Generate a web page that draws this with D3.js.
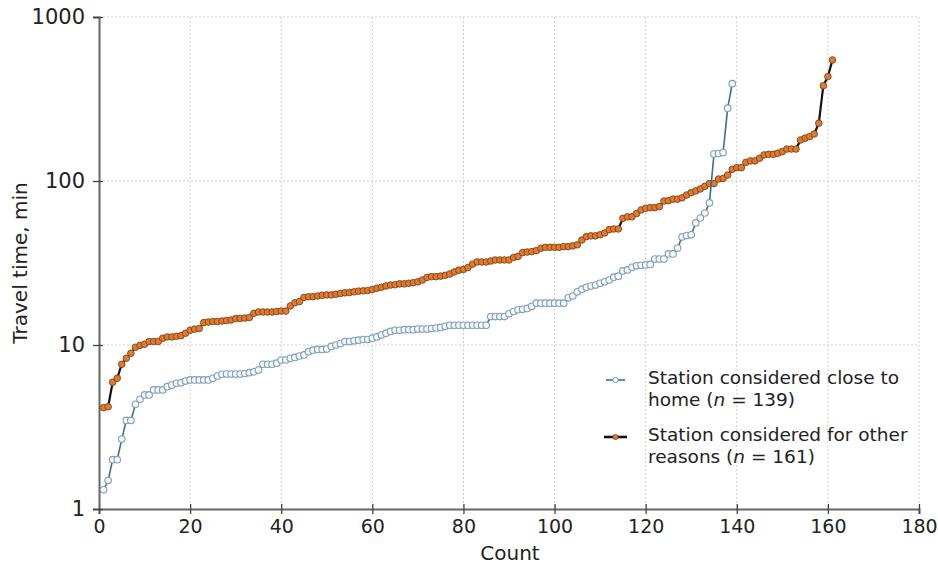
<!DOCTYPE html>
<html>
<head>
<meta charset="utf-8">
<script src="https://cdn.jsdelivr.net/npm/d3@7"></script>
<style>
  html, body { margin: 0; padding: 0; background: #fff; }
  svg { display: block; font-family: "DejaVu Sans", Verdana, sans-serif; }
</style>
</head>
<body>
<svg id="chart" width="938" height="568"></svg>
<script>
// ---- data ----
const closeHome = [
  1.31,1.49,2.0,2.0,2.67,3.47,3.47,4.35,4.67,4.96,
  4.96,5.32,5.32,5.32,5.57,5.70,5.84,5.88,6.03,6.12,
  6.12,6.12,6.12,6.12,6.27,6.47,6.63,6.65,6.65,6.65,
  6.65,6.7,6.78,6.87,7.04,7.63,7.63,7.63,7.75,8.1,
  8.1,8.3,8.4,8.57,8.7,9.1,9.3,9.4,9.4,9.45,
  9.8,10.0,10.2,10.5,10.5,10.6,10.7,10.8,10.8,11.0,
  11.2,11.5,11.8,12.1,12.3,12.3,12.4,12.4,12.4,12.5,
  12.5,12.5,12.6,12.7,12.8,13.0,13.2,13.2,13.2,13.2,
  13.2,13.2,13.2,13.2,13.2,14.9,14.9,14.9,14.9,15.5,
  16.0,16.4,16.5,16.7,17.2,18.0,18.0,18.0,18.0,18.0,
  18.0,18.0,19.4,19.9,21.1,21.9,22.5,22.9,23.2,23.8,
  24.3,24.9,25.9,26.3,28.3,28.7,29.8,30.4,30.6,30.8,
  31.0,33.4,33.4,33.4,35.9,35.9,39,45.6,46.5,47,
  55.5,59.5,63.8,73.5,146,147,149,278,392
];
const otherReasons = [
  4.15,4.2,5.92,6.27,7.63,8.3,8.9,9.68,9.95,10.1,
  10.5,10.5,10.5,11.0,11.2,11.2,11.3,11.4,11.8,12.3,
  12.5,12.6,13.7,13.8,13.9,13.9,14.0,14.1,14.2,14.5,
  14.5,14.6,14.7,15.6,15.9,15.9,15.9,15.9,16.0,16.1,
  16.1,17.3,18.1,18.4,19.5,19.7,19.7,19.9,20.1,20.2,
  20.2,20.4,20.6,20.8,20.9,21.1,21.3,21.4,21.5,21.8,
  22.2,22.5,22.9,23.2,23.3,23.6,23.6,23.8,24.0,24.3,
  24.9,25.8,26.1,26.1,26.3,26.6,27.1,27.9,28.6,28.9,
  29.7,31.1,32.1,32.1,32.1,32.5,33,33,33,33,
  34.2,34.7,36.6,36.9,37.1,37.6,38.9,39.4,39.4,39.4,
  39.4,39.8,39.8,40.2,40.8,43.7,45.8,46.3,46.3,47,
  48.2,50.5,51,51,59.2,60.5,60.5,63.3,66.6,68.2,
  68.8,68.8,69.8,75.5,75.9,77.5,77.5,79,82.2,84.9,
  87,89.4,92.8,96.4,96.4,102.8,103.6,108.7,117.8,120.6,
  120.6,130,132.6,132.6,137.6,144.2,145.5,145.5,147.7,151,
  156.6,156.6,156.6,178,182.6,186.8,193.6,225,381,433,
  547
];
const xTicks = [0,20,40,60,80,100,120,140,160,180];
const yTicks = [1,10,100,1000];
const legendLabels = [
  ["Station considered close to", "home (", "n", " = 139)"],
  ["Station considered for other", "reasons (", "n", " = 161)"]
];
const xTitle = "Count";
const yTitle = "Travel time, min";

// ---- layout ----
const svg = d3.select("#chart");
const m = {left: 99, right: 919, top: 17, bottom: 509};
const x = d3.scaleLinear().domain([0,180]).range([m.left, m.right]);
const y = d3.scaleLog().domain([1,1000]).range([m.bottom, m.top]);

// grid
const grid = svg.append("g");
grid.selectAll("line.vx").data(xTicks.filter(d => d > 0)).join("line")
  .attr("x1", d => x(d)).attr("x2", d => x(d))
  .attr("y1", m.top).attr("y2", m.bottom)
  .attr("stroke", "#cfcfcf").attr("stroke-width", 1).attr("stroke-dasharray", "2,2");
grid.selectAll("line.hy").data(yTicks.filter(d => d > 1)).join("line")
  .attr("x1", m.left).attr("x2", m.right)
  .attr("y1", d => y(d)).attr("y2", d => y(d))
  .attr("stroke", "#cfcfcf").attr("stroke-width", 1).attr("stroke-dasharray", "2,2");

// axes
const xAxis = svg.append("g").attr("transform", `translate(0,${m.bottom})`)
  .call(d3.axisBottom(x).tickValues(xTicks).tickSize(5).tickPadding(6).tickFormat(d3.format("d")));
const yAxis = svg.append("g").attr("transform", `translate(${m.left},0)`)
  .call(d3.axisLeft(y).tickValues(yTicks).tickSize(6).tickPadding(8).tickFormat(d3.format("d")));
[xAxis, yAxis].forEach(a => {
  a.select(".domain").attr("stroke", "#666").attr("stroke-width", 2);
  a.selectAll(".tick line").attr("stroke", "#444").attr("stroke-width", 1.3);
  a.selectAll(".tick text").attr("fill", "#222").attr("font-family", "DejaVu Sans, sans-serif");
});
xAxis.selectAll(".tick line").attr("y1", -5).attr("y2", 5);
yAxis.selectAll(".tick line").attr("x1", -6).attr("x2", 4);
xAxis.selectAll(".tick text").attr("font-size", 19);
yAxis.selectAll(".tick text").attr("font-size", 21);

// titles
svg.append("text").attr("x", (m.left + m.right) / 2 + 1).attr("y", 560)
  .attr("text-anchor", "middle").attr("font-size", 20).attr("fill", "#222").text(xTitle);
svg.append("text").attr("transform", `translate(27,${(m.top + m.bottom) / 2}) rotate(-90)`)
  .attr("text-anchor", "middle").attr("font-size", 20).attr("fill", "#222").text(yTitle);

// series
const line = d3.line().x((d, i) => x(i + 1)).y(d => y(d));
const orangeG = svg.append("g");
orangeG.append("path").datum(otherReasons).attr("d", line)
  .attr("fill", "none").attr("stroke", "#111").attr("stroke-width", 2.2);
orangeG.selectAll("circle").data(otherReasons).join("circle")
  .attr("cx", (d, i) => x(i + 1)).attr("cy", d => y(d)).attr("r", 3.3)
  .attr("fill", "#e07a30").attr("stroke", "#7d4318").attr("stroke-width", 0.9);

const blueG = svg.append("g");
blueG.append("path").datum(closeHome).attr("d", line)
  .attr("fill", "none").attr("stroke", "#3f6f98").attr("stroke-width", 1.6);
blueG.selectAll("circle").data(closeHome).join("circle")
  .attr("cx", (d, i) => x(i + 1)).attr("cy", d => y(d)).attr("r", 3.3)
  .attr("fill", "#f6f9fb").attr("stroke", "#7f9fb8").attr("stroke-width", 1.1);

// legend
const lg = svg.append("g");
const legendY = [380, 437];
// blue legend symbol
lg.append("line").attr("x1", 606).attr("x2", 625).attr("y1", legendY[0]).attr("y2", legendY[0])
  .attr("stroke", "#3f6f98").attr("stroke-width", 1.6);
lg.append("circle").attr("cx", 615.5).attr("cy", legendY[0]).attr("r", 2.6)
  .attr("fill", "#f6f9fb").attr("stroke", "#7f9fb8").attr("stroke-width", 1);
// orange legend symbol
lg.append("line").attr("x1", 604).attr("x2", 627).attr("y1", legendY[1]).attr("y2", legendY[1])
  .attr("stroke", "#111").attr("stroke-width", 2.6);
lg.append("circle").attr("cx", 615.5).attr("cy", legendY[1]).attr("r", 2.6)
  .attr("fill", "#e07a30").attr("stroke", "#7d4318").attr("stroke-width", 0.8);

legendLabels.forEach((lab, k) => {
  const t = lg.append("text").attr("x", 648).attr("y", legendY[k] + 4)
    .attr("font-size", 18.5).attr("fill", "#222");
  t.append("tspan").attr("x", 648).text(lab[0]);
  const t2 = lg.append("text").attr("x", 648).attr("y", legendY[k] + 26)
    .attr("font-size", 18.5).attr("fill", "#222");
  t2.append("tspan").text(lab[1]);
  t2.append("tspan").attr("font-style", "italic").text(lab[2]);
  t2.append("tspan").text(lab[3]);
});
</script>
</body>
</html>
